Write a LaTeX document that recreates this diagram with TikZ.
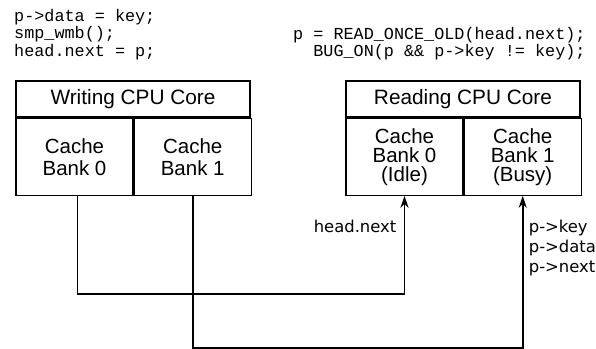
\documentclass[tikz,border=0pt]{standalone}
\usepackage{fontspec}
\setmainfont{Liberation Sans}
\newfontfamily\codefont{Liberation Mono}
\newfontfamily\labelfont{DejaVu Sans}
\usetikzlibrary{arrows.meta,positioning}

\tikzset{
  core/.style={draw, line width=1.2pt, minimum width=234pt, minimum height=36pt, inner sep=0pt,
    font=\fontsize{20.8}{22}\selectfont},
  bank/.style={draw, line width=1.2pt, minimum width=117pt, minimum height=77pt, inner sep=0pt,
    align=center, font=\fontsize{20.5}{22}\selectfont},
  rbank/.style={bank, font=\fontsize{20.5}{19}\selectfont},
  bus/.style={line width=1.8pt, line join=miter},
  lbl/.style={inner sep=0pt, align=left, font=\labelfont\fontsize{16.4}{20}\selectfont},
  code/.style={inner sep=0pt, align=left, anchor=north west, font=\codefont\fontsize{16.8}{17.5}\selectfont}
}

\begin{document}
\begin{tikzpicture}[x=1pt, y=-1pt]
  \useasboundingbox (0,0) rectangle (596,348);

  % Code of both cores
  \node[code] (wcode) at (14,9) {p->data = key;\\smp\_wmb();\\head.next = p;};
  \node[code] (rcode) at (293,27) {p = READ\_ONCE\_OLD(head.next);\\\phantom{pp}BUG\_ON(p \&\& p->key != key);};

  % Writing core
  \node[core] (wcore) at (133,99) {Writing CPU Core};
  \node[bank, below right=0pt and 0pt of wcore.south west] (wbank0) {Cache\\Bank 0};
  \node[bank, right=0pt of wbank0] (wbank1) {Cache\\Bank 1};

  % Reading core
  \node[core] (rcore) at (463,99) {Reading CPU Core};
  \node[rbank, below right=0pt and 0pt of rcore.south west] (rbank0) {Cache\\Bank 0\\(Idle)};
  \node[rbank, right=0pt of rbank0] (rbank1) {Cache\\Bank 1\\(Busy)};

  % Connections
  \draw[bus, -{Stealth[length=12pt, width=8pt]}] ([xshift=3pt]wbank0.south) -- ++(0,98) -| (rbank0.south);
  \draw[bus, -{Stealth[length=12pt, width=8pt]}] (wbank1.south) -- ++(0,152) -| (rbank1.south);

  % Labels
  \node[lbl, below left=24pt and 8pt of rbank0.south] (hnext) {head.next};
  \node[lbl, below right=24pt and 6pt of rbank1.south] (fields) {p->key\\p->data\\p->next};
\end{tikzpicture}
\end{document}
